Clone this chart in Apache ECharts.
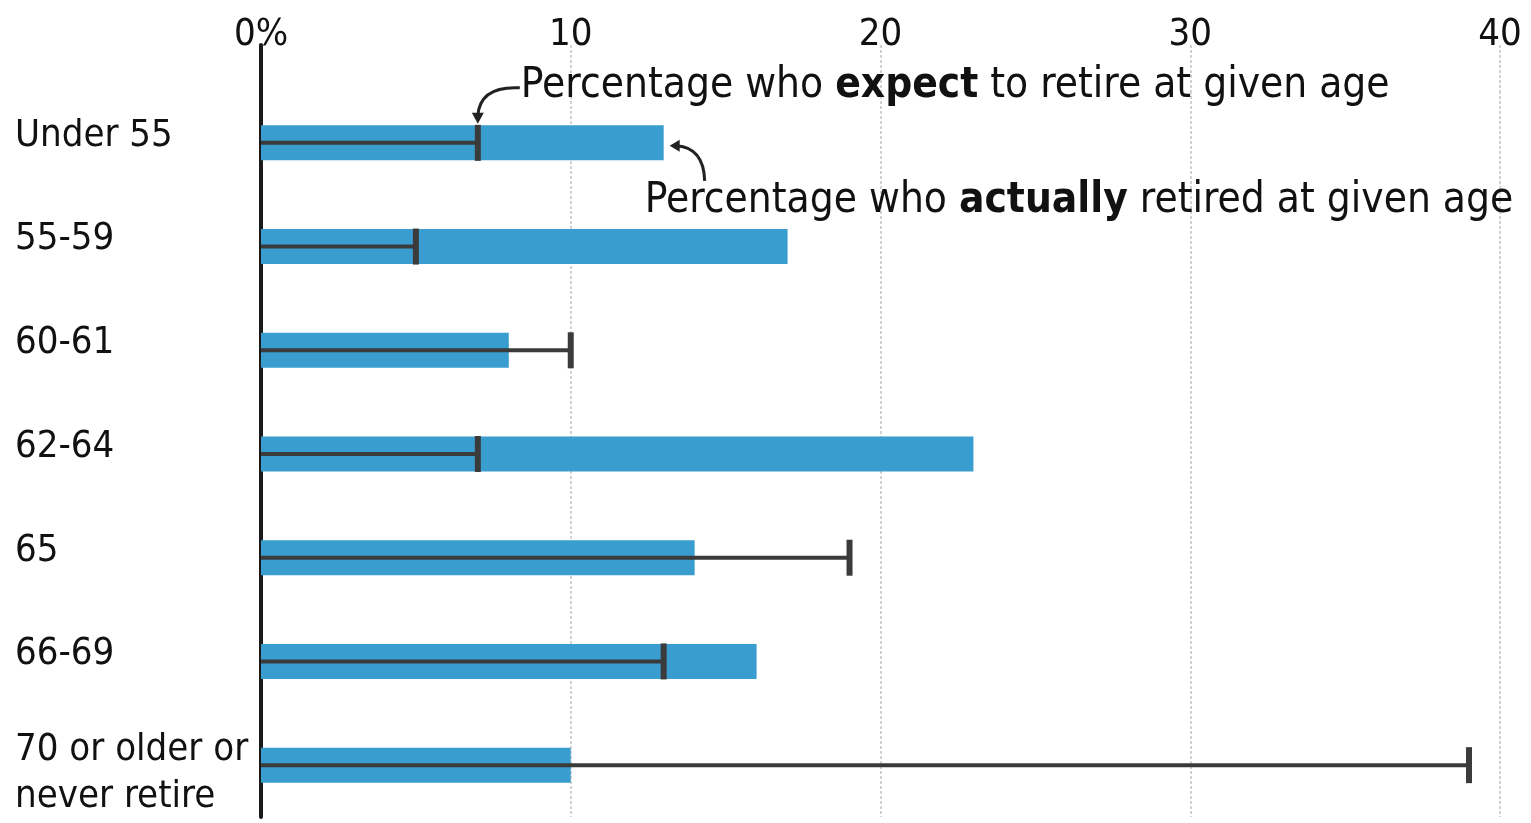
<!DOCTYPE html>
<html>
<head>
<meta charset="utf-8">
<script src="https://cdn.jsdelivr.net/npm/echarts@6/dist/echarts.min.js"></script>
<style>
html,body{margin:0;padding:0;background:#fff;}
#c{width:1531px;height:823px;}
</style>
</head>
<body>
<div id="c"></div>
<script>
var categories = ['Under 55', '55-59', '60-61', '62-64', '65', '66-69', '70 or older or\nnever retire'];
var actualRetired = [13, 17, 8, 23, 14, 16, 10];
var expectRetire = [7, 5, 10, 7, 19, 13, 39];
var xTicks = [0, 10, 20, 30, 40];

var FONT = "'DejaVu Sans Condensed', 'DejaVu Sans', sans-serif";
var FS = 38;
var AFS = 42;
var BLUE = '#3a9dcf';
var DARK = '#3b3b3b';

var chart = echarts.init(document.getElementById('c'));

var splitLine = { show: true, lineStyle: { color: '#c4c4c4', width: 1.5, type: [3, 2] } };

chart.setOption({
  backgroundColor: '#fff',
  animation: false,
  grid: [
    { left: 261, right: 31, top: 45, height: 46 },
    { left: 261, right: 31, top: 91, bottom: 6 }
  ],
  xAxis: [
    {
      gridIndex: 0, type: 'value', position: 'top', min: xTicks[0], max: xTicks[xTicks.length - 1], interval: 10,
      axisLine: { show: false }, axisTick: { show: false },
      axisLabel: {
        show: true, margin: -9, fontSize: FS, color: '#111', fontFamily: FONT,
        formatter: function (v) { return v === 0 ? '0%' : String(v); }
      },
      splitLine: splitLine
    },
    {
      gridIndex: 1, type: 'value', min: xTicks[0], max: xTicks[xTicks.length - 1], interval: 10,
      axisLine: { show: false }, axisTick: { show: false }, axisLabel: { show: false },
      splitLine: splitLine
    }
  ],
  yAxis: [
    {
      gridIndex: 0, type: 'value', min: 0, max: 1,
      axisLine: { show: true, lineStyle: { color: '#1a1a1a', width: 4 } },
      axisTick: { show: false }, axisLabel: { show: false }, splitLine: { show: false }
    },
    {
      gridIndex: 1, type: 'category', inverse: true, data: categories,
      axisLine: { show: true, onZero: false, lineStyle: { color: '#1a1a1a', width: 4 } },
      axisTick: { show: false },
      axisLabel: {
        show: true, align: 'left', margin: 246, verticalAlign: 'middle',
        formatter: function (v) {
          var parts = v.split('\n');
          if (parts.length === 1) return '{s|' + v + '}';
          return '{e| }\n' + parts.map(function (p) { return '{m|' + p + '}'; }).join('\n');
        },
        rich: {
          s: { fontSize: FS, color: '#111', fontFamily: FONT, lineHeight: 46, padding: [0, 0, 14, 0] },
          e: { fontSize: 10, lineHeight: 17 },
          m: { fontSize: FS, color: '#111', fontFamily: FONT, lineHeight: 47 }
        }
      },
      splitLine: { show: false }
    }
  ],
  series: [
    {
      type: 'bar', xAxisIndex: 1, yAxisIndex: 1, data: actualRetired,
      barWidth: 35, itemStyle: { color: BLUE }, z: 2
    },
    {
      type: 'custom', xAxisIndex: 1, yAxisIndex: 1,
      data: expectRetire.map(function (v, i) { return [v, i]; }),
      encode: { x: 0, y: 1 }, z: 3,
      renderItem: function (params, api) {
        var idx = api.value(1);
        var s = api.coord([0, idx]);
        var e = api.coord([api.value(0), idx]);
        return {
          type: 'group',
          children: [
            { type: 'line', shape: { x1: s[0], y1: s[1], x2: e[0], y2: e[1] },
              style: { stroke: DARK, lineWidth: 4 } },
            { type: 'rect', shape: { x: e[0] - 3, y: e[1] - 18, width: 6, height: 36 },
              style: { fill: DARK } }
          ]
        };
      }
    }
  ]
});

var tip1 = chart.convertToPixel({ xAxisIndex: 1, yAxisIndex: 1 }, [expectRetire[0], 0]);
var tip2 = chart.convertToPixel({ xAxisIndex: 1, yAxisIndex: 1 }, [actualRetired[0], 0]);

var t1x = tip1[0], t1y = tip1[1] - 21;
var t2x = tip2[0] + 8, t2y = tip2[1] + 2;

var richStyle = {
  n: { fontSize: AFS, fontFamily: FONT, fill: '#111', lineHeight: 48 },
  b: { fontSize: AFS, fontFamily: FONT, fontWeight: 'bold', fill: '#111', lineHeight: 48 }
};

chart.setOption({
  graphic: [
    {
      type: 'text', left: t1x + 43, top: t1y - 57, z: 10,
      style: {
        text: '{n|Percentage who }{b|expect}{n| to retire at given age}',
        rich: richStyle
      }
    },
    {
      type: 'text', left: t2x - 27, top: t2y + 35, z: 10,
      style: {
        text: '{n|Percentage who }{b|actually}{n| retired at given age}',
        rich: richStyle
      }
    },
    {
      type: 'bezierCurve', z: 10,
      shape: { x1: t1x + 42, y1: t1y - 34, cpx1: t1x + 2, cpy1: t1y - 36, x2: t1x, y2: t1y - 6 },
      style: { stroke: '#222', lineWidth: 3, fill: null }
    },
    {
      type: 'polygon', z: 10,
      shape: { points: [[t1x - 6, t1y - 9], [t1x + 6, t1y - 9], [t1x, t1y + 2]] },
      style: { fill: '#222' }
    },
    {
      type: 'bezierCurve', z: 10,
      shape: { x1: t2x + 33, y1: t2y + 36, cpx1: t2x + 32, cpy1: t2y + 3, x2: t2x + 5, y2: t2y + 1 },
      style: { stroke: '#222', lineWidth: 3, fill: null }
    },
    {
      type: 'polygon', z: 10,
      shape: { points: [[t2x + 8, t2y - 5], [t2x + 8, t2y + 7], [t2x - 2, t2y + 1]] },
      style: { fill: '#222' }
    }
  ]
});
</script>
</body>
</html>
